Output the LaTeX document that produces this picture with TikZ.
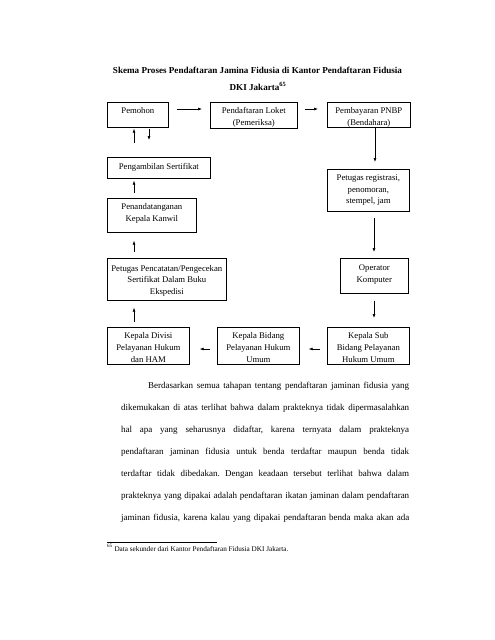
\documentclass[tikz,border=0pt]{standalone}
\usepackage{fontspec}
\setmainfont{Liberation Serif}
\usetikzlibrary{arrows.meta}
\frenchspacing
\tikzset{
  box/.style={draw, line width=0.7pt, inner sep=0pt, anchor=north west},
  lbl/.style={anchor=north, inner sep=0pt, align=center, font=\fontsize{8.7}{11.7}\selectfont},
  arr/.style={-{Latex[length=4pt,width=3pt]}, line width=0.6pt},
}
\begin{document}
\begin{tikzpicture}[x=1pt,y=-1pt]
\useasboundingbox[fill=white] (0,0) rectangle (495,640);
% title
\node[anchor=base, inner sep=0pt, font=\fontsize{9.1}{12}\selectfont\bfseries] (t1) at (257.5,73) {Skema Proses Pendaftaran Jamina Fidusia di Kantor Pendaftaran Fidusia};
\node[anchor=base, inner sep=0pt, font=\fontsize{9.1}{12}\selectfont\bfseries] (t2) at (258,90) {DKI Jakarta\textsuperscript{65}};
% boxes
\node[box, minimum width=61pt, minimum height=25pt] (pemohon) at (107,102) {};
\node[lbl] (lpemohon) at ([yshift=-5.5pt]pemohon.north) {Pemohon};
\node[box, minimum width=87pt, minimum height=26pt] (loket) at (210,102) {};
\node[lbl] (lloket) at ([yshift=-5.5pt]loket.north) {Pendaftaran Loket\\(Pemeriksa)};
\node[box, minimum width=83pt, minimum height=25pt] (pnbp) at (327,102) {};
\node[lbl] (lpnbp) at ([yshift=-5.5pt]pnbp.north) {Pembayaran PNBP\\(Bendahara)};
\node[box, minimum width=82pt, minimum height=42pt] (reg) at (327,169) {};
\node[lbl] (lreg) at ([yshift=-5.5pt]reg.north) {Petugas registrasi,\\penomoran,\\stempel, jam};
\node[box, minimum width=68pt, minimum height=35pt] (oper) at (340,258) {};
\node[lbl] (loper) at ([yshift=-7pt]oper.north) {Operator\\Komputer};
\node[box, minimum width=82pt, minimum height=37pt] (sub) at (327,327) {};
\node[lbl] (lsub) at ([yshift=-5.5pt]sub.north) {Kepala Sub\\Bidang Pelayanan\\Hukum Umum};
\node[box, minimum width=82pt, minimum height=37pt] (bidang) at (217,327) {};
\node[lbl] (lbidang) at ([yshift=-5.5pt]bidang.north) {Kepala Bidang\\Pelayanan Hukum\\Umum};
\node[box, minimum width=82pt, minimum height=37pt] (divisi) at (107,327) {};
\node[lbl] (ldivisi) at ([yshift=-5.5pt]divisi.north) {Kepala Divisi\\Pelayanan Hukum\\dan HAM};
\node[box, minimum width=119pt, minimum height=42pt] (catat) at (107,258) {};
\node[lbl] (lcatat) at ([yshift=-7pt]catat.north) {Petugas Pencatatan/Pengecekan\\Sertifikat Dalam Buku\\Ekspedisi};
\node[box, minimum width=89pt, minimum height=34pt] (tanda) at (107,198) {};
\node[lbl] (ltanda) at ([yshift=-5.5pt]tanda.north) {Penandatanganan\\Kepala Kanwil};
\node[box, minimum width=103pt, minimum height=21pt] (ambil) at (107,157) {};
\node[lbl] (lambil) at ([yshift=-6.5pt]ambil.north) {Pengambilan Sertifikat};
% arrows
\draw[arr, shorten <=8pt, shorten >=8pt] ([yshift=-7pt]pemohon.north east) -- ([yshift=-7pt]loket.north west);
\draw[arr, shorten <=7pt, shorten >=9pt] ([yshift=-7pt]loket.north east) -- ([yshift=-7pt]pnbp.north west);
\draw[arr, shorten >=7pt] ([xshift=48pt]pnbp.south west) -- ([xshift=48pt]reg.north west);
\draw[arr, shorten <=6pt, shorten >=6pt] ([xshift=47pt]reg.south west) -- ([xshift=34pt]oper.north west);
\draw[arr, shorten <=7pt, shorten >=9pt] ([xshift=34pt]oper.south west) -- ([xshift=47pt]sub.north west);
\draw[arr, shorten <=7pt, shorten >=9pt] ([yshift=-22pt]sub.north west) -- ([yshift=-22pt]bidang.north east);
\draw[arr, shorten <=7pt, shorten >=10pt] ([yshift=-22pt]bidang.north west) -- ([yshift=-22pt]divisi.north east);
\draw[arr, shorten <=5pt, shorten >=7pt] ([xshift=27pt]divisi.north west) -- ([xshift=27pt]catat.south west);
\draw[arr, shorten <=6pt, shorten >=8pt] ([xshift=27pt]catat.north west) -- ([xshift=27pt]tanda.south west);
\draw[arr, shorten <=5pt, shorten >=2pt] ([xshift=27pt]tanda.north west) -- ([xshift=27pt]ambil.south west);
\draw[arr, shorten <=14pt, shorten >=1pt] ([xshift=27pt]ambil.north west) -- ([xshift=27pt]pemohon.south west);
\draw[arr, shorten <=1pt, shorten >=17pt] ([xshift=42pt]pemohon.south west) -- ([xshift=42pt]ambil.north west);
% body text
\node[anchor=base west, inner sep=0pt] (body) at (121,388) {\parbox[t]{288pt}{\fontsize{9}{22}\selectfont\hyphenpenalty=10000\emergencystretch=20pt\parfillskip=0pt\noindent\hspace*{27pt}Berdasarkan semua tahapan tentang pendaftaran jaminan fidusia yang\linebreak
dikemukakan di atas terlihat bahwa dalam prakteknya tidak dipermasalahkan\linebreak
hal apa yang seharusnya didaftar, karena ternyata dalam prakteknya\linebreak
pendaftaran jaminan fidusia untuk benda terdaftar maupun benda tidak\linebreak
terdaftar tidak dibedakan. Dengan keadaan tersebut terlihat bahwa dalam\linebreak
prakteknya yang dipakai adalah pendaftaran ikatan jaminan dalam pendaftaran\linebreak
jaminan fidusia, karena kalau yang dipakai pendaftaran benda maka akan ada}};
% footnote
\coordinate (r1) at (107,542);
\coordinate (r2) at (217,542);
\draw[line width=0.6pt] (r1) -- (r2);
\node[anchor=base west, inner sep=0pt, font=\fontsize{7.2}{9}\selectfont] (fn) at (107,551) {\textsuperscript{65} Data sekunder dari Kantor Pendaftaran Fidusia DKI Jakarta.};
\end{tikzpicture}
\end{document}
